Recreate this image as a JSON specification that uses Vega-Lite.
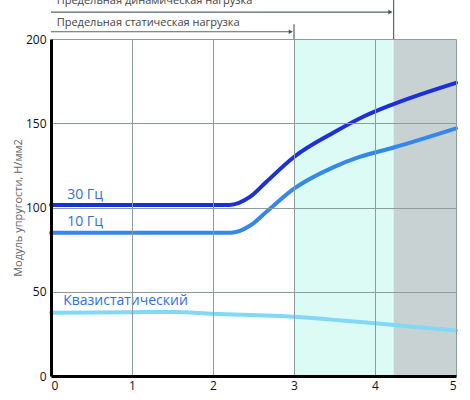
{
  "$schema": "https://vega.github.io/schema/vega-lite/v6.json",
  "width": 405,
  "height": 337,
  "autosize": {"type": "none"},
  "padding": {"left": 51, "top": 39, "right": 14, "bottom": 24},
  "config": {
    "view": {"stroke": null},
    "font": "Open Sans"
  },
  "resolve": {"scale": {"color": "independent"}},
  "datasets": {
    "curves": [
      {"series": "30", "x": 0, "v": 101.5},
      {"series": "30", "x": 2.2, "v": 101.5},
      {"series": "30", "x": 2.46, "v": 106.4},
      {"series": "30", "x": 2.66, "v": 115.3},
      {"series": "30", "x": 3.0, "v": 130},
      {"series": "30", "x": 3.49, "v": 144.5},
      {"series": "30", "x": 3.86, "v": 154},
      {"series": "30", "x": 4.23, "v": 161.4},
      {"series": "30", "x": 5.0, "v": 174},
      {"series": "10", "x": 0, "v": 85},
      {"series": "10", "x": 2.22, "v": 85},
      {"series": "10", "x": 2.46, "v": 89.3},
      {"series": "10", "x": 2.66, "v": 97.5},
      {"series": "10", "x": 3.0, "v": 111.2},
      {"series": "10", "x": 3.49, "v": 124},
      {"series": "10", "x": 3.81, "v": 130},
      {"series": "10", "x": 4.23, "v": 135.6},
      {"series": "10", "x": 5.0, "v": 147},
      {"series": "q", "x": 0, "v": 37.6},
      {"series": "q", "x": 1.0, "v": 37.9},
      {"series": "q", "x": 1.5, "v": 38},
      {"series": "q", "x": 2.0, "v": 37},
      {"series": "q", "x": 3.0, "v": 35.2},
      {"series": "q", "x": 4.0, "v": 31.3},
      {"series": "q", "x": 5.0, "v": 27}
    ]
  },
  "layer": [
    {
      "data": {"values": [
        {"a": 3, "b": 4.23, "zone": "static"},
        {"a": 4.23, "b": 5, "zone": "dynamic"}
      ]},
      "mark": {"type": "rect"},
      "encoding": {
        "x": {
          "field": "a", "type": "quantitative",
          "scale": {"domain": [0, 5], "nice": false},
          "axis": {
            "values": [0, 1, 2, 3, 4, 5], "format": "d", "grid": true, "gridColor": "#8c9c9c", "gridOpacity": 1,
            "domainColor": "#000", "domainWidth": 3, "ticks": false, "zindex": 1,
            "labelFontSize": 12, "labelColor": "#111", "labelPadding": 4, "title": null
          }
        },
        "x2": {"field": "b"},
        "y": {"datum": 0, "type": "quantitative"},
        "y2": {"datum": 200},
        "color": {
          "field": "zone", "type": "nominal", "legend": null,
          "scale": {"domain": ["static", "dynamic"], "range": ["#dcfbf5", "#c9d2d2"]}
        }
      }
    },
    {
      "data": {"name": "curves"},
      "mark": {"type": "line", "interpolate": "monotone", "strokeWidth": 4, "strokeCap": "round"},
      "encoding": {
        "x": {"field": "x", "type": "quantitative"},
        "y": {
          "field": "v", "type": "quantitative",
          "scale": {"domain": [0, 200], "nice": false},
          "axis": {
            "values": [0, 50, 100, 150, 200], "grid": true, "gridColor": "#8c9c9c", "gridOpacity": 1,
            "domainColor": "#000", "domainWidth": 3, "ticks": false, "zindex": 1,
            "labelFontSize": 12, "labelColor": "#111", "labelPadding": 5,
            "title": "Модуль упругости, Н/мм2", "titleFontSize": 11, "titleFontWeight": "normal",
            "titleColor": "#666", "titlePadding": 2
          }
        },
        "color": {
          "field": "series", "type": "nominal", "legend": null,
          "scale": {"domain": ["30", "10", "q"], "range": ["#1b30d8", "#3487ec", "#80d9f7"]}
        }
      }
    },
    {
      "data": {"values": [
        {"label": "30 Гц", "x": 0.2, "v": 107.5},
        {"label": "10 Гц", "x": 0.2, "v": 91.5},
        {"label": "Квазистатический", "x": 0.15, "v": 44.5}
      ]},
      "mark": {"type": "text", "align": "left", "baseline": "middle", "fontSize": 14, "color": "#2f6fdc"},
      "encoding": {
        "x": {"field": "x", "type": "quantitative"},
        "y": {"field": "v", "type": "quantitative"},
        "text": {"field": "label"}
      }
    },
    {
      "data": {"values": [
        {"x": 0, "x2": 4.2, "v": 216, "v2": 216},
        {"x": 4.23, "x2": 4.23, "v": 200, "v2": 235},
        {"x": 0, "x2": 2.97, "v": 204.3, "v2": 204.3},
        {"x": 3, "x2": 3, "v": 200, "v2": 208.8}
      ]},
      "mark": {"type": "rule", "color": "#556666", "strokeWidth": 1.2},
      "encoding": {
        "x": {"field": "x", "type": "quantitative"},
        "x2": {"field": "x2"},
        "y": {"field": "v", "type": "quantitative"},
        "y2": {"field": "v2"}
      }
    },
    {
      "data": {"values": [
        {"x": 4.19, "v": 216},
        {"x": 2.96, "v": 204.3}
      ]},
      "mark": {"type": "point", "shape": "triangle-right", "filled": true, "size": 22, "color": "#445555", "opacity": 1},
      "encoding": {
        "x": {"field": "x", "type": "quantitative"},
        "y": {"field": "v", "type": "quantitative"}
      }
    },
    {
      "data": {"values": [
        {"label": "Предельная динамическая нагрузка", "x": 0.07, "v": 222.5},
        {"label": "Предельная статическая нагрузка", "x": 0.07, "v": 209.5}
      ]},
      "mark": {"type": "text", "align": "left", "baseline": "middle", "fontSize": 11, "color": "#444"},
      "encoding": {
        "x": {"field": "x", "type": "quantitative"},
        "y": {"field": "v", "type": "quantitative"},
        "text": {"field": "label"}
      }
    }
  ]
}
